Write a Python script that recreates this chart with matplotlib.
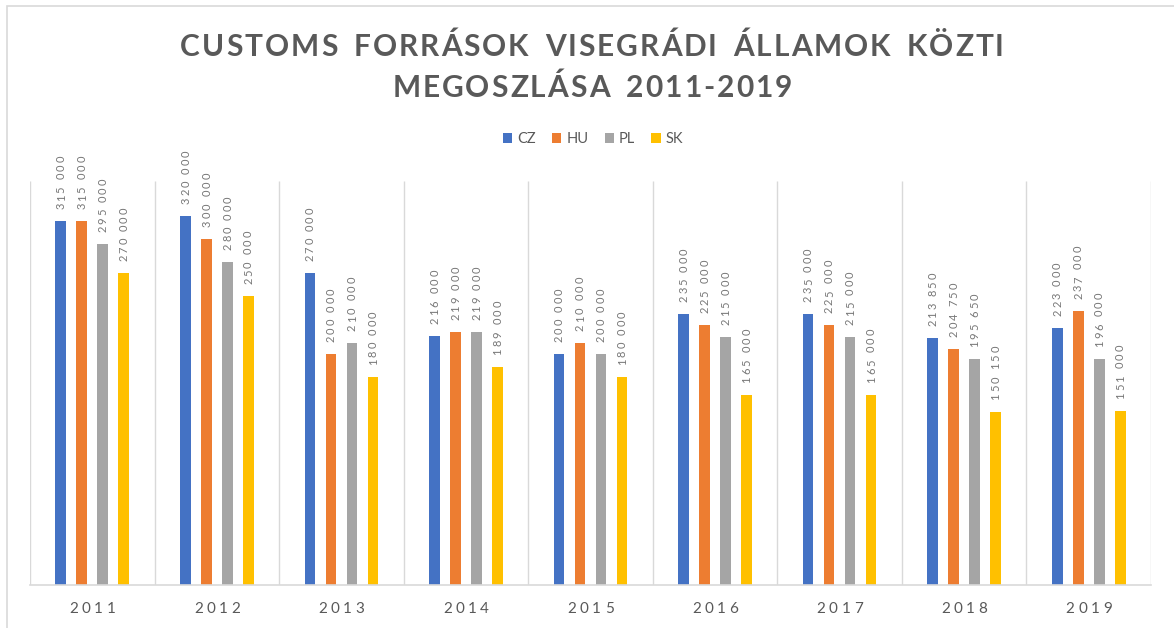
import numpy as np
import matplotlib
matplotlib.use("Agg")
import matplotlib.pyplot as plt
from matplotlib.font_manager import FontProperties
from matplotlib.patches import Rectangle, Patch

plt.rcParams['font.family'] = ['Lato', 'DejaVu Sans']

# ---- data ----
years = ["2011", "2012", "2013", "2014", "2015", "2016", "2017", "2018", "2019"]
series_names = ["CZ", "HU", "PL", "SK"]
cz = [315000, 320000, 270000, 216000, 200000, 235000, 235000, 213850, 223000]
hu = [315000, 300000, 200000, 219000, 210000, 225000, 225000, 204750, 237000]
pl = [295000, 280000, 210000, 219000, 200000, 215000, 215000, 195650, 196000]
sk = [270000, 250000, 180000, 189000, 180000, 165000, 165000, 150150, 151000]
title_lines = ["CUSTOMS FORRÁSOK VISEGRÁDI ÁLLAMOK KÖZTI", "MEGOSZLÁSA 2011-2019"]

series = [cz, hu, pl, sk]
colors = ["#4472C4", "#ED7D31", "#A5A5A5", "#FFC000"]

W, H = 1174, 628
fig = plt.figure(figsize=(W / 100, H / 100), dpi=100)
fig.patch.set_facecolor("white")

# plot area in pixels: left 30, right 1151, top 181, bottom 585
ax = fig.add_axes([30 / W, (H - 585) / H, (1151 - 30) / W, (585 - 181) / H])
ax.set_xlim(-0.5, len(years) - 0.5)
ax.set_ylim(0, 350000)
for sp in ["left", "right", "top"]:
    ax.spines[sp].set_visible(False)
ax.spines["bottom"].set_color("#D9D9D9")
ax.spines["bottom"].set_linewidth(1.2)
ax.set_yticks([])
ax.set_xticks([])

# category separators
bounds = np.arange(len(years) + 1) - 0.5
ax.vlines(bounds, 0, 350000, colors="#D9D9D9", linewidth=1.0, zorder=0)

x = np.arange(len(years))
pitch = 0.1685
bw = 0.086
offsets = (np.arange(len(series)) - (len(series) - 1) / 2) * pitch
for vals, col, off, name in zip(series, colors, offsets, series_names):
    ax.bar(x + off, vals, width=bw, color=col, label=name, zorder=2)

# legend
handles = [Patch(facecolor=c, label=n) for c, n in zip(colors, series_names)]
leg = fig.legend(handles=handles, loc="center", bbox_to_anchor=(593 / W, 1 - 139 / H),
                 ncol=4, frameon=False, handlelength=0.65, handleheight=0.65,
                 handletextpad=0.35, columnspacing=1.1,
                 prop=FontProperties(family=['Lato', 'DejaVu Sans'], size=10.5))
for t in leg.get_texts():
    t.set_color("#595959")

fig.canvas.draw()
renderer = fig.canvas.get_renderer()


def spaced_text(x_px, y_px, s, prop, tracking, color, vertical=False, word_gap=0.0):
    """Draw text with extra letter spacing, centred on (x_px, y_px) along its direction."""
    w0 = renderer.get_text_width_height_descent("x", prop, ismath=False)[0]

    def adv(t):
        if not t:
            return 0.0
        return renderer.get_text_width_height_descent(t + "x", prop, ismath=False)[0] - w0

    pos = [adv(s[:i]) + i * tracking + s[:i].count(" ") * word_gap for i in range(len(s))]
    last_w = renderer.get_text_width_height_descent(s[-1], prop, ismath=False)[0]
    total = pos[-1] + last_w
    start = -total / 2
    for ch, p in zip(s, pos):
        if ch == " ":
            continue
        d = start + p
        if vertical:
            px, py, rot = x_px, y_px + d + total / 2, 90
        else:
            px, py, rot = x_px + d, y_px, 0
        fig.text(px / W, py / H, ch, fontproperties=prop, color=color,
                 rotation=rot, rotation_mode="anchor", ha="left", va="baseline")


# title
title_prop = FontProperties(family=['Lato', 'DejaVu Sans'], weight="bold", size=21.5)
spaced_text(592, H - 56, title_lines[0], title_prop, 2.0, "#595959", word_gap=5)
spaced_text(592, H - 97, title_lines[1], title_prop, 2.0, "#595959", word_gap=5)

# category labels
tick_prop = FontProperties(family=['Lato', 'DejaVu Sans'], size=11)
for i, yr in enumerate(years):
    cx = ax.transData.transform((i, 0))[0]
    spaced_text(cx, H - 613, yr, tick_prop, 3.5, "#595959")

# value labels above bars
lab_prop = FontProperties(family=['Lato', 'DejaVu Sans'], size=8)
for vals, off in zip(series, offsets):
    for i, v in enumerate(vals):
        bx, by = ax.transData.transform((i + off, v))
        txt = f"{v:,}".replace(",", " ")
        # vertical text: start 12 px above bar top
        spaced_text(bx + 3.8, by + 12, txt, lab_prop, 2.0, "#767676", vertical=True)

# chart frame
fig.add_artist(Rectangle((7 / W, -0.05), 1.2, (H - 6) / H + 0.05, transform=fig.transFigure,
                         fill=False, edgecolor="#D9D9D9", linewidth=1.2, clip_on=False))

fig.savefig("out.png", dpi=100)
